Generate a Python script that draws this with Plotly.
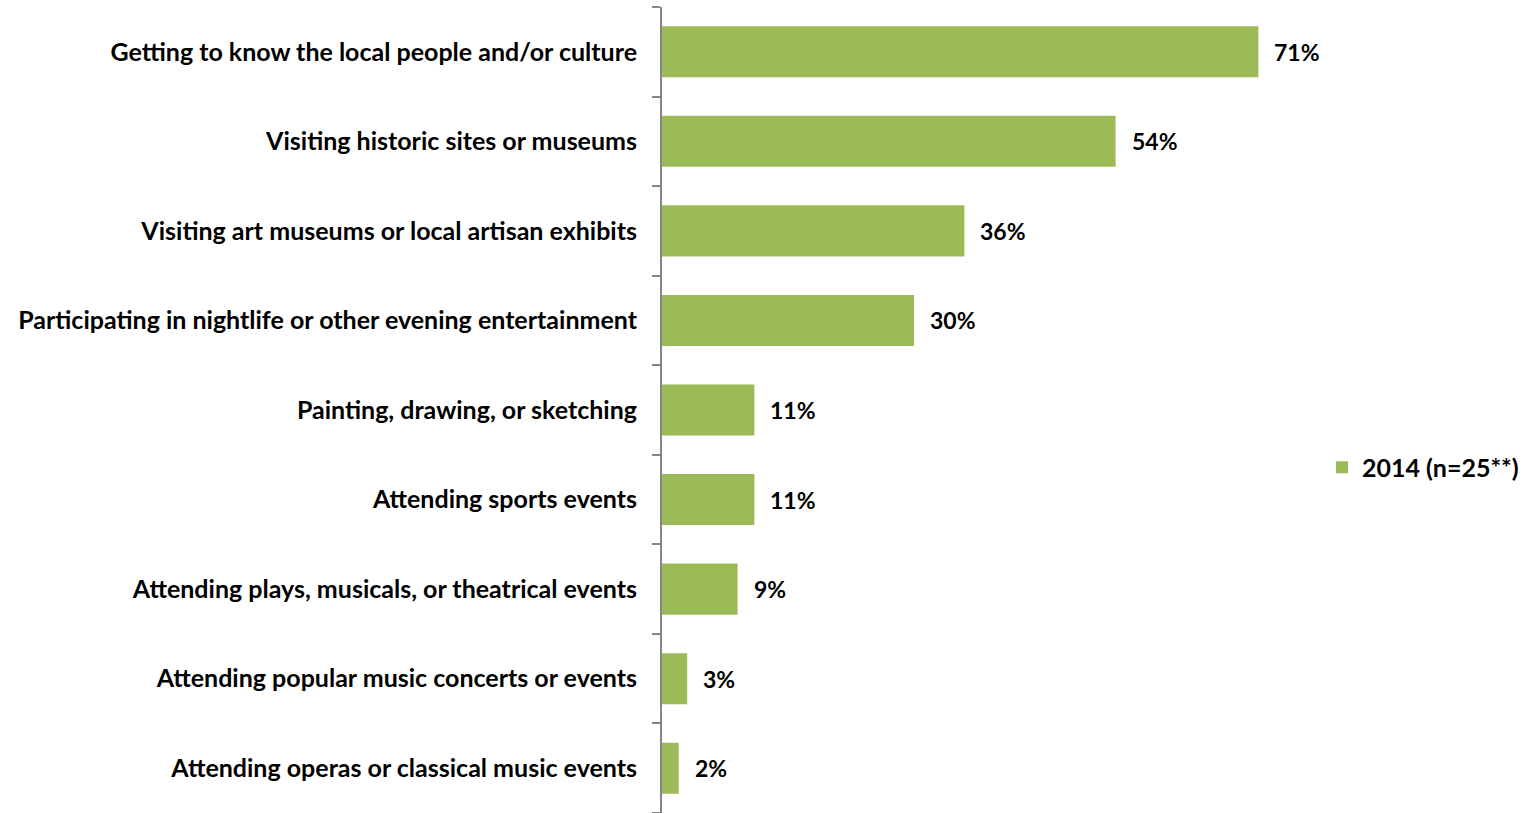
import plotly.graph_objects as go

categories = [
    "Getting to know the local people and/or culture",
    "Visiting historic sites or museums",
    "Visiting art museums or local artisan exhibits",
    "Participating in nightlife or other evening entertainment",
    "Painting, drawing, or sketching",
    "Attending sports events",
    "Attending plays, musicals, or theatrical events",
    "Attending popular music concerts or events",
    "Attending operas or classical music events",
]
values = [71, 54, 36, 30, 11, 11, 9, 3, 2]
series_name = "2014 (n=25**)"

BAR = "#9BBB59"
AXIS = "#868686"
FONT = "Lato, Calibri, sans-serif"

fig = go.Figure()
fig.add_trace(go.Bar(
    y=categories,
    x=values,
    orientation="h",
    name=f"<b>{series_name}</b>",
    marker=dict(color=BAR, line=dict(width=0)),
    showlegend=True,
))

# Percentage labels just past the end of each bar
for c, v in zip(categories, values):
    fig.add_annotation(
        x=v, y=c, text=f"<b>{v}%</b>", showarrow=False,
        xanchor="left", yanchor="middle", xshift=14,
        font=dict(family=FONT, size=23, color="#000000"),
    )

fig.update_layout(
    width=1526, height=813,
    margin=dict(l=662, r=192, t=7, b=0, autoexpand=False),
    paper_bgcolor="white", plot_bgcolor="white",
    bargap=0.43,
    font=dict(family=FONT, size=25, color="#000000"),
    showlegend=True,
    legend=dict(
        xref="container", yref="container",
        x=1322 / 1526, y=0.425, xanchor="left", yanchor="middle",
        font=dict(family=FONT, size=25, color="#000000"),
        itemwidth=30,
    ),
    xaxis=dict(
        range=[0, 80], visible=False, showgrid=False, zeroline=False,
    ),
    yaxis=dict(
        type="category",
        categoryorder="array", categoryarray=categories[::-1],
        showline=True, linecolor=AXIS, linewidth=2,
        ticks="outside", tickson="boundaries", ticklen=8, tickcolor=AXIS, tickwidth=2,
        ticklabelstandoff=18,
        tickfont=dict(family=FONT, size=25, color="#000000"),
        tickprefix="<b>", ticksuffix="</b>",
        showgrid=False, zeroline=False,
    ),
)

fig.write_html("out.html")
